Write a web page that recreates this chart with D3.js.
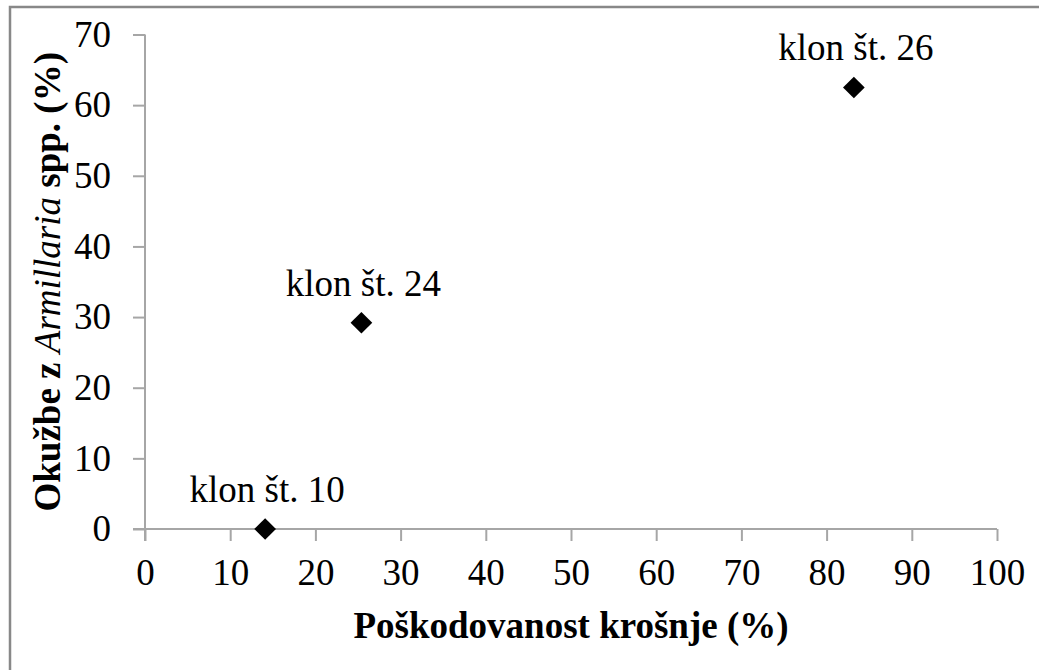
<!DOCTYPE html>
<html>
<head>
<meta charset="utf-8">
<script src="https://cdn.jsdelivr.net/npm/d3@7"></script>
<style>
    body { margin: 0; background: #fff; }
    svg { display: block; }
    svg text { font-family: "Times New Roman", "Liberation Serif", serif !important; fill: #000; }
</style>
</head>
<body>
<div id="chart"></div>
<script>
    // data
    const clones = ["klon št. 10", "klon št. 24", "klon št. 26"];
    const damage = [14.1, 25.4, 83.2];     // Poškodovanost krošnje (%)
    const infection = [0, 29.2, 62.5];     // Okužbe z Armillaria spp. (%)
    const xTicks = [0, 10, 20, 30, 40, 50, 60, 70, 80, 90, 100];
    const yTicks = [0, 10, 20, 30, 40, 50, 60, 70];

    const width = 1039, height = 670;
    const plotLeft = 145, plotRight = 997, plotTop = 34.5, plotBottom = 529;
    const fs = 37;

    const svg = d3.select("#chart").append("svg")
        .attr("width", width)
        .attr("height", height);

    // outer frame
    svg.append("rect")
        .attr("x", 10).attr("y", 7)
        .attr("width", 1100).attr("height", 800)
        .attr("fill", "none")
        .attr("stroke", "#888")
        .attr("stroke-width", 2.5);

    const x = d3.scaleLinear().domain([0, 100]).range([plotLeft, plotRight]);
    const y = d3.scaleLinear().domain([0, 70]).range([plotBottom, plotTop]);

    const axisColor = "#a6a6a6";

    const xAxis = svg.append("g")
        .attr("transform", `translate(0,${plotBottom})`)
        .call(d3.axisBottom(x).tickValues(xTicks).tickSize(12).tickPadding(18).tickSizeOuter(0));
    xAxis.select(".domain").remove();
    xAxis.selectAll(".tick line").attr("stroke", axisColor).attr("stroke-width", 2);
    xAxis.selectAll(".tick text").attr("font-size", fs);

    const yAxis = svg.append("g")
        .attr("transform", `translate(${plotLeft},0)`)
        .call(d3.axisLeft(y).tickValues(yTicks).tickSize(12).tickPadding(22).tickSizeOuter(0));
    yAxis.select(".domain").remove();
    yAxis.selectAll(".tick line").attr("stroke", axisColor).attr("stroke-width", 2);
    yAxis.selectAll(".tick text").attr("font-size", fs);

    // axis lines
    svg.append("line")
        .attr("x1", plotLeft - 12).attr("x2", plotRight)
        .attr("y1", plotBottom).attr("y2", plotBottom)
        .attr("stroke", axisColor).attr("stroke-width", 2);
    svg.append("line")
        .attr("x1", plotLeft).attr("x2", plotLeft)
        .attr("y1", plotTop).attr("y2", plotBottom + 12)
        .attr("stroke", axisColor).attr("stroke-width", 2);

    // points
    const pts = clones.map((c, i) => ({ name: c, x: damage[i], y: infection[i] }));

    svg.selectAll(".pt")
        .data(pts)
        .join("path")
        .attr("class", "pt")
        .attr("transform", d => `translate(${x(d.x)},${y(d.y)})`)
        .attr("d", d3.symbol(d3.symbolDiamond2, 300))
        .attr("fill", "#000");

    svg.selectAll(".lbl")
        .data(pts)
        .join("text")
        .attr("class", "lbl")
        .attr("x", d => x(d.x) + 2)
        .attr("y", d => y(d.y) - 27)
        .attr("text-anchor", "middle")
        .attr("font-size", fs)
        .text(d => d.name);

    // axis titles
    svg.append("text")
        .attr("x", 571).attr("y", 638)
        .attr("text-anchor", "middle")
        .attr("font-size", fs)
        .attr("font-weight", "bold")
        .text("Poškodovanost krošnje (%)");

    const yt = svg.append("text")
        .attr("transform", `translate(60,${(plotTop + plotBottom) / 2}) rotate(-90)`)
        .attr("text-anchor", "middle")
        .attr("font-size", fs)
        .attr("font-weight", "bold");
    yt.append("tspan").text("Okužbe z ");
    yt.append("tspan").attr("font-style", "italic").attr("font-weight", "normal").text("Armillaria");
    yt.append("tspan").text(" spp. (%)");
</script>
</body>
</html>
